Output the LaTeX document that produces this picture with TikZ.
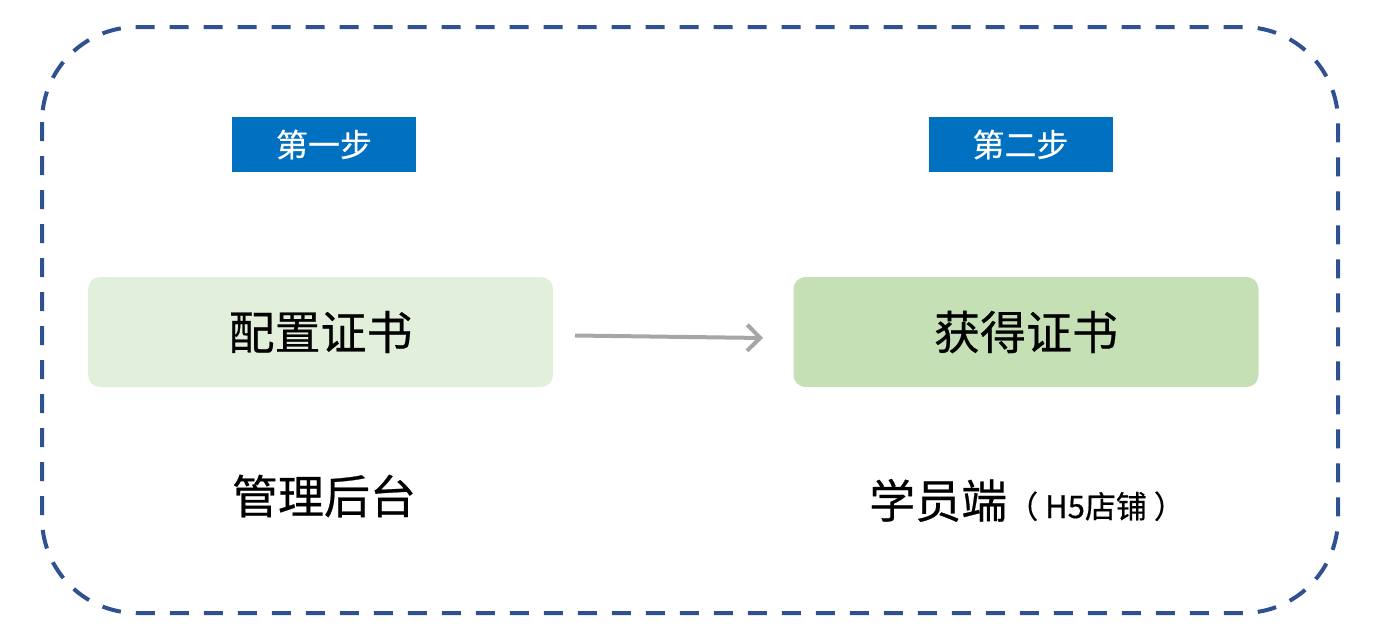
\documentclass[tikz,border=0pt]{standalone}
\usepackage{fontspec}
\setmainfont{Noto Sans CJK SC}[FakeBold=0.5]
\usetikzlibrary{arrows.meta}
\definecolor{frame}{HTML}{2F5192}
\definecolor{stepblue}{HTML}{0070C0}
\definecolor{lightgreen}{HTML}{E2EFDA}
\definecolor{midgreen}{HTML}{C5E0B4}
\definecolor{arrowgray}{HTML}{A6A6A6}
\tikzset{
  stepbox/.style={fill=stepblue, text=white, minimum width=184pt, minimum height=55pt, inner sep=0pt, font=\fontsize{32}{32}\selectfont},
  greenbox/.style={rounded corners=12pt, minimum width=465pt, minimum height=110pt, inner sep=0pt, font=\fontsize{46}{46}\selectfont},
  caption/.style={inner sep=0pt, font=\fontsize{46}{46}\selectfont},
}
\begin{document}
\begin{tikzpicture}[x=1pt,y=-1pt]
\useasboundingbox (0,0) rectangle (1380,640);
\draw[frame, line width=4pt, dash pattern=on 19pt off 15pt, rounded corners=95pt] (42,27) rectangle (1338,613);
\node[stepbox] (s1) at (324,144.5) {第一步};
\node[stepbox] (s2) at (1020.5,144.5) {第二步};
\node[greenbox, fill=lightgreen] (b1) at (320.5,332) {配置证书};
\node[greenbox, fill=midgreen] (b2) at (1026,332) {获得证书};
\coordinate (a1) at (575,335.5);
\coordinate (a2) at (763,338);
\draw[arrowgray, line width=4pt, -{Straight Barb[length=13pt,width=26pt,line width=4pt]}] (a1) -- (a2);
\node[caption] (c1) at (324,496) {管理后台};
\node[caption, anchor=base west] (c2) at (869,518) {学员端\fontsize{31}{31}\selectfont（ H5店铺 ）};
\end{tikzpicture}
\end{document}
